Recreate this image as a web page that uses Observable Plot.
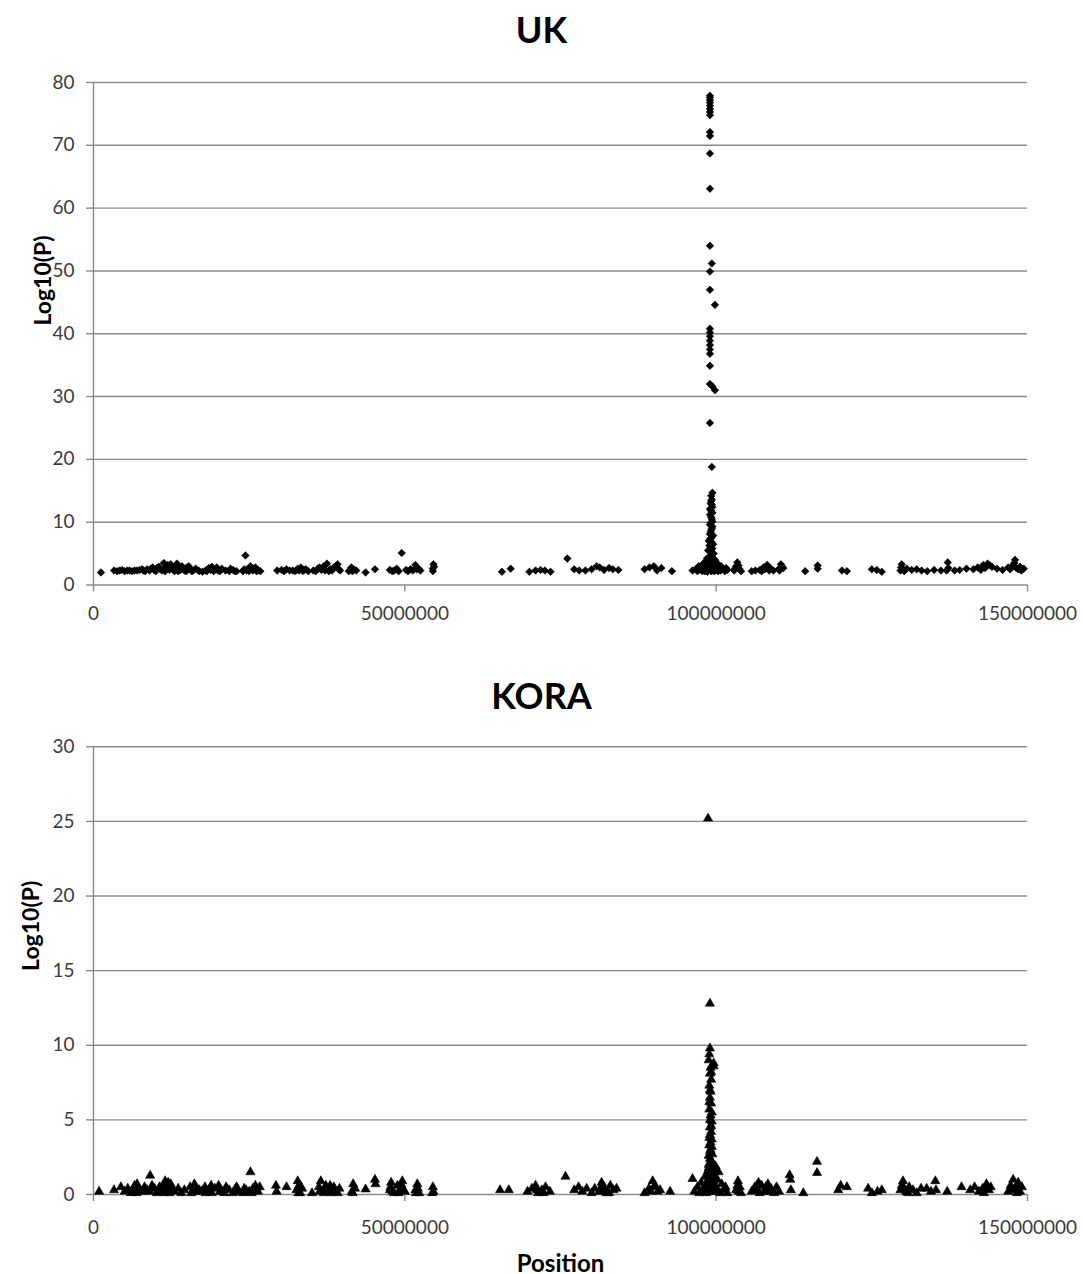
<!DOCTYPE html>
<html><head><meta charset="utf-8">
<script src="https://cdn.jsdelivr.net/npm/d3@7"></script>
<script src="https://cdn.jsdelivr.net/npm/@observablehq/plot@0.6"></script>
<style>
body{margin:0;background:#fff;font-family:Lato,sans-serif}
svg{display:block}
</style>
</head><body><div id="chart"></div>
<script>
// positions in Mb, value = Log10(P)
const ukBackground = [
[1.2,2.0],[3.3,2.3],[3.8,2.2],[4.2,2.3],[4.6,2.4],[5.0,2.2],[5.4,2.3],[5.8,2.3],[6.2,2.2],[6.6,2.3],[7.0,2.3],[7.4,2.4],[7.8,2.5],[8.0,2.3],[8.3,2.2],[8.6,2.5],
[9.0,2.3],[9.2,2.6],[9.5,2.8],[9.7,2.4],[10.0,2.2],[10.2,2.7],[10.5,2.9],[10.7,2.5],[11.0,2.3],
[11.3,3.5],[11.5,2.2],[11.6,2.8],[11.9,3.2],[12.0,2.7],[12.2,2.4],[12.4,3.3],[12.6,3.0],[12.9,2.6],[13.0,2.2],[13.2,2.9],[13.4,3.4],[13.6,2.2],[13.8,2.6],
[14.0,2.4],[14.2,3.0],[14.4,2.7],[14.6,2.3],[14.9,2.2],[15.0,2.8],[15.3,3.0],[15.5,2.5],[15.8,2.2],
[16.0,2.3],[16.4,2.6],[16.7,2.4],[17.0,2.2],[17.5,2.1],[18.0,2.3],[18.2,2.2],[18.5,2.7],[18.8,2.4],[19.0,2.9],[19.3,2.2],[19.5,2.5],[19.8,2.8],[20.0,2.3],
[20.3,2.2],[20.6,2.6],[21.2,2.3],[21.8,2.2],[22.0,2.6],[22.4,2.4],[22.7,2.2],[23.0,2.2],
[24.0,2.2],[24.2,2.5],[24.4,4.7],[24.6,2.3],[24.8,2.6],[25.0,2.2],[25.2,3.0],[25.4,2.7],[25.6,2.3],[25.8,2.5],[26.0,2.8],[26.2,2.2],[26.4,2.4],[26.8,2.2],
[29.5,2.3],[30.2,2.4],[30.6,2.2],[31.0,2.5],[31.5,2.3],[32.0,2.3],[32.4,2.2],[32.8,2.6],[33.0,2.3],[33.3,2.8],[33.6,2.2],[33.8,2.4],[34.1,2.5],[34.5,2.2],
[35.3,2.3],[35.7,2.2],[36.0,2.6],[36.3,2.8],[36.6,2.4],[37.0,3.0],[37.2,2.3],[37.5,3.4],[37.8,2.2],
[38.0,2.5],[38.3,2.3],[38.6,2.8],[38.9,3.0],[39.2,3.3],[39.4,2.5],[39.6,2.3],[41.0,2.2],[41.2,2.4],[41.4,2.8],[41.6,2.2],[41.8,2.5],[42.2,2.3],[43.7,2.0],[45.2,2.5],
[47.6,2.4],[48.0,2.2],[48.3,2.3],[48.7,2.6],[49.0,2.2],[49.5,5.1],[50.2,2.4],[50.5,2.2],[50.9,2.5],[51.3,2.3],[51.7,3.2],[51.9,2.5],[52.2,2.6],[52.5,2.3],
[54.5,2.6],[54.5,2.2],[54.6,3.3],[54.7,2.9],
[65.6,2.1],[67.0,2.6],[70.0,2.1],[71.0,2.3],[71.8,2.4],[72.5,2.3],[73.4,2.1],[76.1,4.2],[77.2,2.5],[78.0,2.3],[79.0,2.3],[80.0,2.5],
[80.8,3.0],[81.3,2.8],[82.0,2.4],[82.8,2.7],[83.4,2.5],[84.3,2.4],[88.5,2.5],[89.3,2.8],[90.0,3.0],[90.5,2.3],[91.2,2.7],[92.9,2.2],
[96.2,2.3],[96.8,2.6],[97.0,2.2],[97.2,3.0],[97.4,2.5],[97.6,2.4],[97.8,2.2],[97.9,3.4],[98.0,2.7],[98.2,2.2],[98.3,3.1],[98.4,3.8],[98.5,2.4],[98.6,2.6],
[98.7,3.3],[98.8,4.4],[98.9,3.9],[99.1,3.0],[99.2,2.2],[99.3,3.5],[99.4,4.4],[99.5,2.3],[99.6,2.5],[99.7,3.1],[99.8,4.0],[99.9,2.4],
[100.0,3.5],[100.1,2.8],[100.3,2.2],[100.4,3.2],[100.5,2.7],[100.7,2.3],[100.8,3.0],[101.0,2.6],[101.2,2.5],[101.4,2.2],[101.6,2.7],[101.8,2.4],
[102.9,2.3],[103.0,2.6],[103.2,3.0],[103.4,3.6],[103.6,3.1],[103.7,2.6],[104.0,2.2],[105.7,2.2],[106.3,2.3],[107.0,2.4],[107.3,2.2],[107.6,2.8],[107.8,2.5],
[108.0,2.9],[108.2,3.2],[108.5,2.3],[108.8,2.6],[109.2,2.3],
[110.0,2.5],[110.2,2.3],[110.4,3.3],[110.6,2.9],[110.8,2.7],[114.3,2.2],[116.3,3.1],[116.3,2.6],[120.2,2.3],[121.0,2.2],[125.0,2.5],[125.8,2.4],[126.6,2.1],
[129.6,2.3],[129.7,2.8],[129.8,3.3],[130.0,2.5],[130.2,2.2],[130.6,2.6],[131.4,2.4],[132.2,2.5],[133.0,2.3],[133.9,2.2],[135.0,2.4],[136.1,2.3],[137.0,2.3],
[137.2,3.6],[137.3,2.7],[138.3,2.3],
[139.1,2.4],[140.2,2.6],[141.3,2.5],[142.0,2.8],[142.5,2.4],[142.9,3.2],[143.2,2.7],[143.6,3.4],[144.0,3.1],[144.3,2.9],[145.1,2.6],[146.0,2.4],[146.9,2.8],
[147.2,2.5],[147.7,3.2],[147.9,3.5],[148.0,4.0],[148.2,2.7],[148.5,2.5],[148.8,2.9],[149.0,2.3],[149.4,2.6]
];
const ukPeak = [
[99.0,77.9],[99.0,77.6],[99.0,77.2],[99.0,76.8],[99.0,76.3],[99.0,75.8],[99.0,75.3],[99.0,74.8],[99.0,72.1],[99.0,71.5],[99.0,68.7],[99.0,63.1],[99.0,54.0],
[99.3,51.2],[99.0,49.9],[99.0,47.0],[99.8,44.6],[99.0,40.8],[99.0,40.2],[99.0,39.6],[99.0,38.9],[99.0,38.2],[99.0,37.5],[99.0,36.8],[99.0,34.9],[99.0,32.0],
[99.4,31.6],[99.8,31.0],[99.0,25.8],[99.3,18.8],[99.4,14.7],[99.2,14.2],[99.3,13.6],[99.2,13.4],[99.1,13.0],[99.3,12.8],[99.4,12.4],[99.0,12.1],[99.2,11.8],
[99.4,11.5],[99.0,11.2],[99.2,10.8],[99.3,10.5],[99.4,10.1],[99.1,9.9],[99.0,9.6],
[99.4,9.3],[99.3,9.0],[99.2,8.7],[99.1,8.4],[99.0,8.1],[99.5,7.9],[99.3,7.6],[99.0,7.3],[98.8,7.0],[99.3,6.8],[99.5,6.5],[98.9,6.3],[99.1,6.0],[99.4,5.8],
[98.7,5.5],[99.2,5.3],[99.6,5.0],[99.2,4.6],[98.5,4.2],[99.9,3.8],[99.4,3.3],
[98.9,2.9],[100.2,2.6],[99.7,2.2],[98.6,2.1],[99.0,2.4],[99.5,2.8]
];
const koraBackground = [
[0.9,0.2],[3.3,0.3],[4.4,0.5],[5.0,0.2],[5.5,0.4],[6.0,0.1],[6.3,0.3],[6.6,0.6],[6.9,0.1],[7.0,0.7],[7.2,0.4],[7.6,0.2],[8.0,0.2],[8.2,0.5],[8.6,0.3],
[9.1,1.27],[9.0,0.2],[9.4,0.6],[9.8,0.4],[10.2,0.1],[10.4,0.3],[10.6,0.5],[11.1,0.5],[11.3,0.2],[11.4,0.1],[11.5,0.9],[11.7,0.6],[11.9,0.3],[12.0,0.8],
[12.2,0.1],[12.4,0.7],[12.6,0.4],[13.0,0.2],[13.6,0.4],[14.1,0.1],[14.6,0.3],[15.5,0.5],[15.7,0.1],[15.9,0.2],
[16.2,0.7],[16.4,0.2],[16.6,0.4],[17.0,0.3],[17.4,0.2],[17.9,0.5],[18.0,0.1],[18.5,0.3],[18.9,0.6],[19.0,0.1],[19.5,0.4],[20.1,0.6],[20.3,0.2],[20.6,0.2],
[21.0,0.1],[21.3,0.5],[21.8,0.3],[22.4,0.1],[22.8,0.4],[23.0,0.5],[23.2,0.2],
[24.0,0.1],[24.2,0.4],[24.5,0.3],[25.2,1.5],[25.0,0.2],[25.4,0.1],[25.6,0.4],[26.0,0.6],[26.2,0.4],[26.4,0.2],[26.7,0.5],[29.3,0.6],[29.4,0.2],[31.0,0.5],
[32.6,0.3],[32.8,0.9],[32.9,0.1],[33.0,0.6],[33.2,0.1],[33.3,0.5],[33.5,0.4],[35.1,0.1],[36.2,0.5],[36.3,0.2],[36.5,0.9],[36.9,0.2],[37.0,0.1],[37.3,0.6],
[37.7,0.3],[38.0,0.6],[38.2,0.1],[38.4,0.3],[38.6,0.5],[39.0,0.2],[39.2,0.1],[39.5,0.4],[41.5,0.2],[41.6,0.1],[41.7,0.7],
[42.0,0.4],[43.7,0.35],[45.2,1.0],[45.3,0.7],[47.6,0.3],[47.7,0.5],[47.8,0.8],[48.0,0.2],[48.3,0.1],[48.8,0.6],[49.0,0.1],[49.3,0.4],[49.4,0.7],[49.6,0.9],
[49.8,0.3],[50.0,0.2],[51.7,0.3],[51.8,0.1],[52.0,0.7],[52.1,0.4],[52.3,0.1],[54.4,0.1],[54.5,0.5],[54.6,0.2],
[65.3,0.3],[66.7,0.3],[69.7,0.2],[70.4,0.4],[71.0,0.6],[71.2,0.3],[71.4,0.1],[72.0,0.3],[72.3,0.1],[72.6,0.5],[73.3,0.2],[75.8,1.2],[77.2,0.3],[77.9,0.5],
[78.5,0.2],[79.2,0.4],[80.0,0.1],[80.5,0.4],[81.2,0.2],[81.4,0.4],[81.6,0.8],[81.8,0.2],[82.0,0.5],[82.4,0.1],[82.8,0.1],[83.0,0.6],[83.5,0.3],[84.0,0.4],
[88.5,0.1],[89.2,0.4],[89.5,0.2],[89.8,0.9],[90.0,0.5],[90.2,0.6],[90.6,0.2],[91.0,0.3],[92.6,0.2],
[96.2,1.05],[96.5,0.2],[97.0,0.5],[97.3,0.1],[97.6,0.8],[97.9,0.3],[98.1,0.4],[98.2,1.2],[98.3,0.7],[98.4,0.1],[98.5,1.3],[98.6,0.6],[98.6,0.2],[98.8,1.8],
[99.2,2.0],[99.5,0.2],[99.6,0.9],[99.7,1.6],[99.8,1.2],[99.8,0.5],[99.9,1.9],[100.0,0.2],[100.1,0.4],[100.2,1.0],
[100.4,1.5],[100.6,0.1],[100.9,0.7],[101.2,0.3],[101.5,0.5],[101.8,0.1],
[103.2,0.3],[103.4,0.6],[103.5,0.9],[103.6,0.2],[103.8,0.5],[104.0,0.1],[105.7,0.2],[106.2,0.5],[106.5,0.3],[106.8,0.8],[107.0,0.1],[107.3,0.6],[107.8,0.2],
[108.0,0.5],[108.3,0.7],[108.5,0.2],[108.8,0.4],[109.3,0.1],[109.7,0.5],
[110.1,0.2],[111.8,1.3],[111.9,1.0],[112.0,0.3],[114.0,0.1],[116.2,2.2],[116.2,1.45],[119.6,0.3],[120.0,0.6],[121.0,0.5],[124.4,0.4],[125.0,0.1],[125.9,0.2],
[126.6,0.3],[129.6,0.3],[129.8,0.6],[130.0,0.9],[130.2,0.4],[130.5,0.2],[130.8,0.1],[131.0,0.5],[131.6,0.3],[132.2,0.1],[132.9,0.4],[133.8,0.4],[134.5,0.2],
[135.2,0.9],[135.3,0.3],[137.1,0.2],[139.4,0.5],[140.8,0.3],[141.5,0.5],[142.2,0.2],[142.8,0.4],[143.0,0.1],[143.4,0.7],[143.6,0.5],[143.8,0.3],[144.1,0.5],
[146.9,0.2],[147.3,0.6],[147.5,0.3],[147.7,1.0],[148.0,0.4],[148.3,0.1],[148.5,0.8],[148.6,0.6],[148.8,0.2],[149.1,0.5]
];
const koraPeak = [
[98.7,25.2],[99.0,12.8],[99.0,9.8],[98.9,9.4],[98.8,9.0],[99.6,8.8],[99.6,8.6],[99.1,8.5],[99.2,8.2],[99.0,8.1],[99.2,7.7],[98.9,7.3],[99.0,7.0],[99.1,6.9],
[99.0,6.5],[98.9,6.2],[99.2,6.1],[98.9,5.7],[99.3,5.5],[99.1,5.3],[99.0,5.0],
[99.3,4.9],[99.2,4.6],[99.0,4.5],[99.2,4.2],[99.0,4.0],[98.9,3.8],[99.3,3.7],[99.1,3.5],[98.9,3.3],[99.3,3.2],[99.1,3.0],[99.0,2.9],[99.4,2.7],[98.8,2.6],
[99.0,2.4],[99.2,2.3],[99.4,2.0],[98.8,2.0],[99.3,1.8],[98.7,1.6],[99.5,1.4],[98.9,1.1],[99.1,0.8],[99.3,0.5],[99.0,0.2]
];
const xTicks = [0, 50000000, 100000000, 150000000];
const ukYTicks = [0, 10, 20, 30, 40, 50, 60, 70, 80];
const koraYTicks = [0, 5, 10, 15, 20, 25, 30];

const GRID = "#8a8a8a", TXT = "#3c3c3c";

function panel({points, yTicks, yMax, symbol, r, title, height, marginTop, marginBottom, titleDy, ylabDx, ylabDy, xPad, xLabel}) {
  const marks = [
    Plot.ruleY(yTicks, {stroke: GRID, strokeWidth: 1.4}),
    Plot.ruleX([0], {stroke: GRID, strokeWidth: 1.4}),
    Plot.axisY(yTicks, {tickSize: 7, tickPadding: 12, stroke: GRID, strokeWidth: 1.4, fill: TXT, label: null, fontSize: 19}),
    Plot.axisX(xTicks, {tickSize: 7, tickPadding: xPad, stroke: GRID, strokeWidth: 1.4, fill: TXT, label: null, fontSize: 19, tickFormat: d3.format("d")}),
    Plot.dot(points, {x: d => d[0] * 1e6, y: d => d[1], symbol, r, fill: "#000", stroke: "#000", strokeWidth: 0.6}),
    Plot.text([title], {frameAnchor: "top", dx: -19, dy: titleDy, lineAnchor: "bottom", fontSize: 36, fontWeight: "bold", fill: "#000"}),
    Plot.text(["Log10(P)"], {frameAnchor: "top-left", dx: ylabDx, dy: ylabDy, rotate: -90, textAnchor: "middle", lineAnchor: "bottom", fontSize: 23, fontWeight: "bold", fill: "#000"})
  ];
  if (xLabel) marks.push(Plot.text([xLabel], {frameAnchor: "bottom", dy: 77, lineAnchor: "bottom", fontSize: 24, fontWeight: "bold", fill: "#000"}));
  return Plot.plot({
    width: 1083, height, marginLeft: 93, marginRight: 56, marginTop, marginBottom,
    style: {fontFamily: "Lato, sans-serif", fontSize: "19px", color: TXT, background: "#fff", overflow: "visible"},
    x: {domain: [0, 150000000]},
    y: {domain: [0, yMax]},
    marks
  });
}

const root = document.getElementById("chart");
root.append(panel({points: ukBackground.concat(ukPeak), yTicks: ukYTicks, yMax: 80, symbol: "diamond2", r: 3.4, title: "UK",
  height: 640, marginTop: 82, marginBottom: 55.5, titleDy: -40, ylabDx: -43, ylabDy: 198, xPad: 14}));
root.append(panel({points: koraBackground.concat(koraPeak), yTicks: koraYTicks, yMax: 30, symbol: "triangle", r: 3.4, title: "KORA",
  height: 634, marginTop: 106.3, marginBottom: 80, titleDy: -38, ylabDx: -55, ylabDy: 179, xPad: 19, xLabel: "Position"}));
</script>
</body></html>
